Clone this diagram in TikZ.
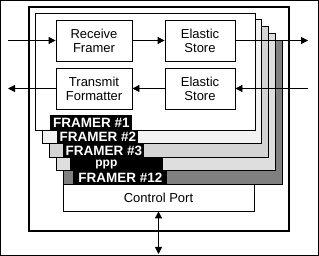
\documentclass[tikz,border=0pt]{standalone}
\usepackage{fontspec}
\setmainfont{Liberation Sans}
\usetikzlibrary{arrows.meta, positioning}

\begin{document}
\begin{tikzpicture}[
        x=1pt, y=-1pt, line width=0.8pt,
        block/.style={rectangle, draw, fill=white, minimum width=76pt, minimum height=41pt, align=center, inner sep=0pt, font=\fontsize{13}{14}\selectfont},
        tag/.style={rectangle, fill=black, text=white, anchor=north west, inner sep=0pt, minimum height=13.5pt, font=\fontsize{13.5}{13.5}\selectfont\bfseries},
        arr/.style={-{Triangle[length=7pt, width=7pt]}},
        dblarr/.style={{Triangle[length=7pt, width=7pt]}-{Triangle[length=7pt, width=7pt]}}
        ]
        \useasboundingbox (0,0) rectangle (319,256);
        \draw (0.5,0.5) rectangle (318.5,255.5);
        \draw[line width=2pt] (29,7) rectangle (289,231);
        % framer stack, back to front
        \foreach \i/\shade in {4/black!50, 3/black!13, 2/black!17, 1/black!5, 0/white} {
            \draw[fill=\shade] (35+7*\i, 13+6.75*\i) rectangle (255+6.75*\i, 130+13.5*\i);
        }
        \node[tag, minimum width=82pt, minimum height=15pt] (f1) at (50,115) {FRAMER \#1};
        \node[tag, minimum width=81pt] (f2) at (57,130) {FRAMER \#2};
        \node[tag, minimum width=81pt] (f3) at (63,143.5) {FRAMER \#3};
        \node[tag, text width=43pt, inner xsep=25pt, align=left, font=\fontsize{12}{12}\selectfont\bfseries] (fdots) at (70,157) {ppp};
        \node[tag, minimum width=94pt] (f12) at (73,170.5) {FRAMER \#12};
        \node[block, minimum width=191pt, minimum height=27pt] (ctrl) at (158.5,197.5) {Control Port};
        % data paths
        \node[block] (rxfr) at (94,40.5) {Receive\\Framer};
        \node[block, minimum width=70pt] (rxes) at (200,40.5) {Elastic\\Store};
        \node[block] (txfm) at (94,88.5) {Transmit\\Formatter};
        \node[block, minimum width=70pt] (txes) at (200,88.5) {Elastic\\Store};
        \coordinate (rxin) at (8,40.5);
        \coordinate (rxout) at (308,40.5);
        \coordinate (txin) at (308,88.5);
        \coordinate (txout) at (8,88.5);
        \coordinate (bus) at (158.5,254);
        \draw[arr] (rxin) -- (rxfr);
        \draw[arr] (rxfr) -- (rxes);
        \draw[arr] (rxes) -- (rxout);
        \draw[arr] (txin) -- (txes);
        \draw[arr] (txes) -- (txfm);
        \draw[arr] (txfm) -- (txout);
        \draw[dblarr] (ctrl) -- (bus);
    \end{tikzpicture}
\end{document}
